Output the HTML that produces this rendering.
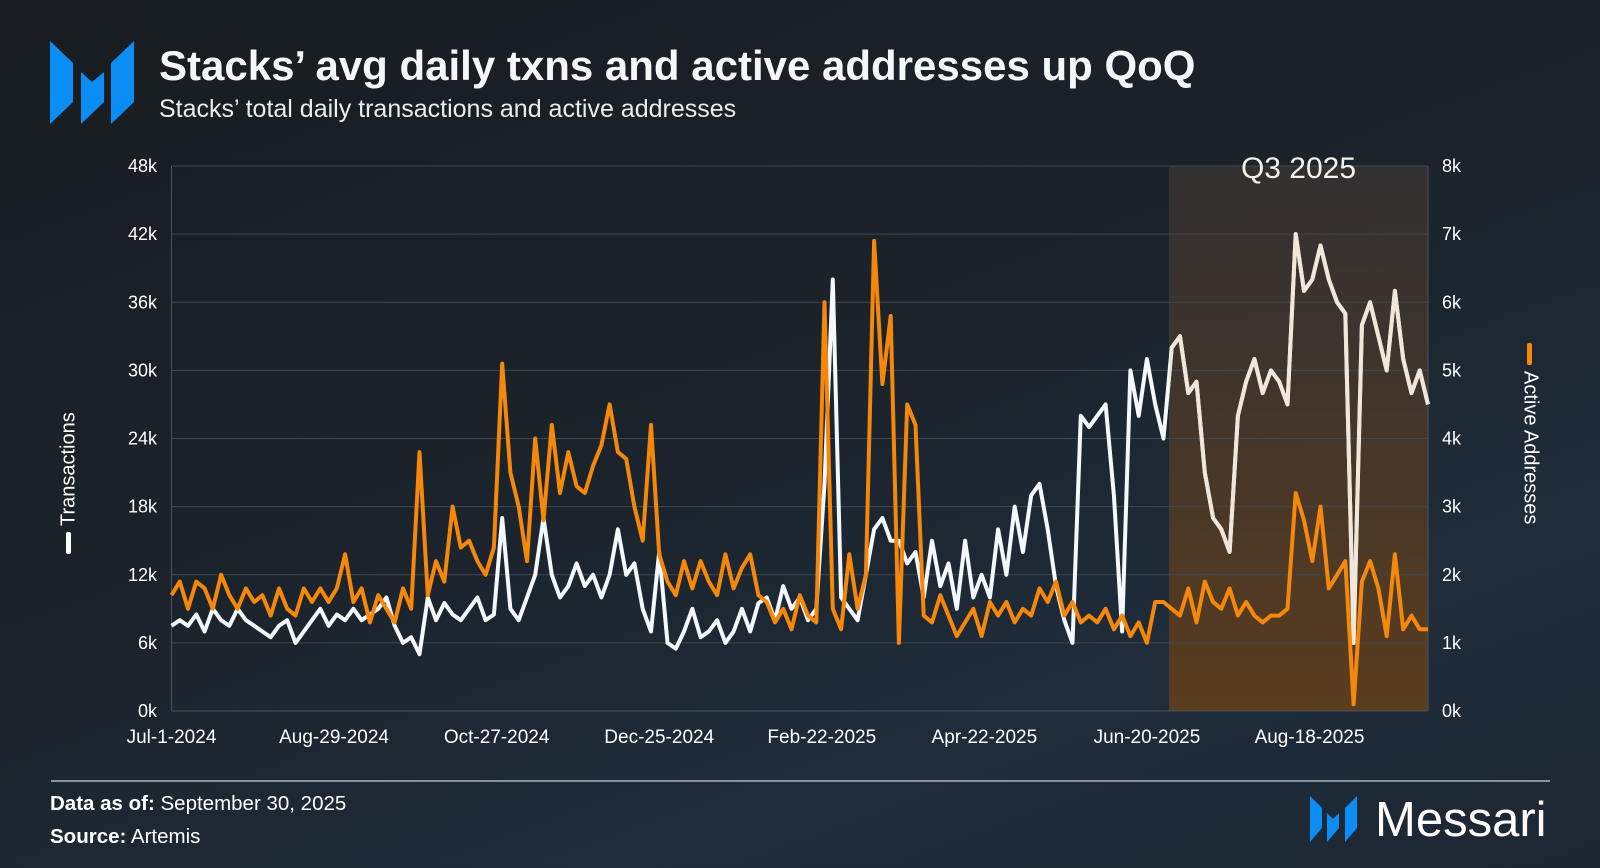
<!DOCTYPE html>
<html><head><meta charset="utf-8">
<style>
html,body{margin:0;padding:0;width:1600px;height:868px;overflow:hidden}
body{background:linear-gradient(160deg,#181c20 0%,#1b232b 45%,#1f2c3a 75%,#1d2733 100%);font-family:"Liberation Sans",sans-serif;color:#fff}
svg text{font-family:"Liberation Sans",sans-serif}
</style></head>
<body>
<svg id="chart" width="1600" height="868" viewBox="0 0 1600 868" xmlns="http://www.w3.org/2000/svg">
<defs>
<linearGradient id="q3g" x1="0" y1="0" x2="0" y2="1">
<stop offset="0" stop-color="#3a3433" stop-opacity="0.75"/>
<stop offset="1" stop-color="#5a3d1e"/>
</linearGradient>
<clipPath id="q3clip"><rect id="q3cliprect" x="0" y="0" width="0" height="0"/></clipPath>
</defs>
<g fill="#0a8df5">
<polygon points="50,41 73,63 73,102 50,124"/>
<polygon points="81,72 92,82 104,72 104,102 81,124"/>
<polygon points="134,41 134,102 111,124 111,63"/>
</g>
<text x="159" y="80" font-size="42" font-weight="bold" fill="#f4f7fa">Stacks’ avg daily txns and active addresses up QoQ</text>
<text x="159" y="117" font-size="25" fill="#e8edf2">Stacks’ total daily transactions and active addresses</text>
<g id="plot"></g>
<g transform="translate(69,470) rotate(-90)">
<rect x="-84" y="-3" width="22" height="5" rx="2" fill="#fff"/>
<text x="-56" y="0" font-size="20" fill="#fff" dominant-baseline="middle">Transactions</text>
</g>
<g transform="translate(1530,449) rotate(90)">
<rect x="-106" y="-2" width="22" height="5" rx="2" fill="#f38a0a"/>
<text x="-78" y="0" font-size="20" fill="#fff" dominant-baseline="middle">Active Addresses</text>
</g>
<line x1="51" y1="781" x2="1550" y2="781" stroke="#8a9097" stroke-width="2"/>
<text x="50" y="810" font-size="20.5" fill="#fff"><tspan font-weight="bold">Data as of:</tspan> September 30, 2025</text>
<text x="50" y="843" font-size="20.5" fill="#fff"><tspan font-weight="bold">Source:</tspan> Artemis</text>
<g fill="#0a8df5">
<polygon points="1310,796 1322,808 1322,828 1310,842"/>
<polygon points="1327,813 1333,819 1339,813 1339,828 1327,842"/>
<polygon points="1357,796 1357,828 1345,842 1345,808"/>
</g>
<text x="1375" y="836" font-size="49" fill="#fff">Messari</text>
</svg>
<script>
const txns = [
7.5,8,7.5,8.5,7,9,8,7.5,9,8,
7.5,7,6.5,7.5,8,6,7,8,9,7.5,
8.5,8,9,8,8.5,9,10,7.5,6,6.5,
5,10,8,9.5,8.5,8,9,10,8,8.5,
17,9,8,10,12,17,12,10,11,13,
11,12,10,12,16,12,13,9,7,14,
6,5.5,7,9,6.5,7,8,6,7,9,
7,9.5,10,8,11,9,10,8,9,20,
38,10,9,8,12,16,17,15,15,13,
14,10,15,11,13,9,15,10,12,10,
16,12,18,14,19,20,16,11,8,6,
26,25,26,27,19,7,30,26,31,27,
24,32,33,28,29,21,17,16,14,26,
29,31,28,30,29,27,42,37,38,41,
38,36,35,6,34,36,33,30,37,31,
28,30,27];
const active = [
1.7,1.9,1.5,1.9,1.8,1.5,2.0,1.7,1.5,1.8,
1.6,1.7,1.4,1.8,1.5,1.4,1.8,1.6,1.8,1.6,
1.8,2.3,1.6,1.8,1.3,1.7,1.5,1.3,1.8,1.5,
3.8,1.7,2.2,1.9,3.0,2.4,2.5,2.2,2.0,2.4,
5.1,3.5,3.0,2.2,4.0,2.8,4.2,3.2,3.8,3.3,
3.2,3.6,3.9,4.5,3.8,3.7,3.0,2.5,4.2,2.3,
1.9,1.7,2.2,1.8,2.2,1.9,1.7,2.3,1.8,2.1,
2.3,1.7,1.6,1.3,1.5,1.2,1.7,1.4,1.3,6.0,
1.5,1.2,2.3,1.5,2.0,6.9,4.8,5.8,1.0,4.5,
4.2,1.4,1.3,1.7,1.4,1.1,1.3,1.5,1.1,1.6,
1.4,1.6,1.3,1.5,1.4,1.8,1.6,1.9,1.4,1.6,
1.3,1.4,1.3,1.5,1.2,1.4,1.1,1.3,1.0,1.6,
1.6,1.5,1.4,1.8,1.3,1.9,1.6,1.5,1.8,1.4,
1.6,1.4,1.3,1.4,1.4,1.5,3.2,2.8,2.2,3.0,
1.8,2.0,2.2,0.1,1.9,2.2,1.8,1.1,2.3,1.2,
1.4,1.2,1.2];
const leftTicks = ["0k","6k","12k","18k","24k","30k","36k","42k","48k"];
const rightTicks = ["0k","1k","2k","3k","4k","5k","6k","7k","8k"];
const dateLabels = ["Jul-1-2024","Aug-29-2024","Oct-27-2024","Dec-25-2024","Feb-22-2025","Apr-22-2025","Jun-20-2025","Aug-18-2025"];
const totalDays = 456;
const tickStepDays = 59;
const q3StartDay = 362;

const X0=171.5,X1=1428,Y0=711,Y1=166;
const NS="http://www.w3.org/2000/svg";
const plot=document.getElementById('plot');
const xDay=d=>X0+(X1-X0)*d/totalDays;
const yL=v=>Y0-(Y0-Y1)*v/48;
const yR=v=>Y0-(Y0-Y1)*v/8;
function mk(tag,attrs){const e=document.createElementNS(NS,tag);for(const k in attrs)e.setAttribute(k,attrs[k]);plot.appendChild(e);return e;}

const sx=xDay(q3StartDay);
const shade=mk('rect',{x:sx,y:Y1,width:X1-sx,height:Y0-Y1,fill:'url(#q3g)'});


const cr=document.getElementById('q3cliprect');
cr.setAttribute('x',sx);cr.setAttribute('y',0);cr.setAttribute('width',X1-sx+5);cr.setAttribute('height',868);

leftTicks.forEach((t,i)=>{
  const y=Y0-(Y0-Y1)*i/(leftTicks.length-1);
  const g=mk('line',{x1:X0,x2:X1,y1:y,y2:y,stroke:i===0?'#4a525b':'#3f474f','stroke-width':1});
  
  
  const l=mk('text',{x:157,y:y+6,'font-size':18,fill:'#fff','text-anchor':'end'});
  l.textContent=t;
  
  
  const r=mk('text',{x:1442,y:y+6,'font-size':18,fill:'#fff'});
  r.textContent=rightTicks[i];
  
  
});
const q3=mk('text',{x:(sx+X1)/2,y:Y1+12,'font-size':30,fill:'#f4f1ec','text-anchor':'middle'});
q3.textContent='Q3 2025';


const ax=mk('line',{x1:X0,x2:X0,y1:Y1,y2:Y0,stroke:'#4a525b','stroke-width':1});


const axr=mk('line',{x1:X1,x2:X1,y1:Y1,y2:Y0,stroke:'#4a525b','stroke-width':1});


dateLabels.forEach((d,i)=>{
  const t=mk('text',{x:xDay(i*tickStepDays),y:743,'font-size':19,fill:'#fff','text-anchor':'middle'});
  t.textContent=d;
  
  
});
function path(arr,yf){
  const n=arr.length;
  return arr.map((v,i)=>(i?'L':'M')+xDay(totalDays*i/(n-1)).toFixed(1)+','+yf(v).toFixed(1)).join('');
}
const lt=mk('path',{d:path(txns,yL),fill:'none',stroke:'#f2f8fc','stroke-width':4,'stroke-linejoin':'round'});


const lt2=mk('path',{d:path(txns,yL),fill:'none',stroke:'#f1e6da','stroke-width':4,'stroke-linejoin':'round','clip-path':'url(#q3clip)'});


const la=mk('path',{d:path(active,yR),fill:'none',stroke:'#f5870a','stroke-width':4,'stroke-linejoin':'round'});


</script>
</body></html>
